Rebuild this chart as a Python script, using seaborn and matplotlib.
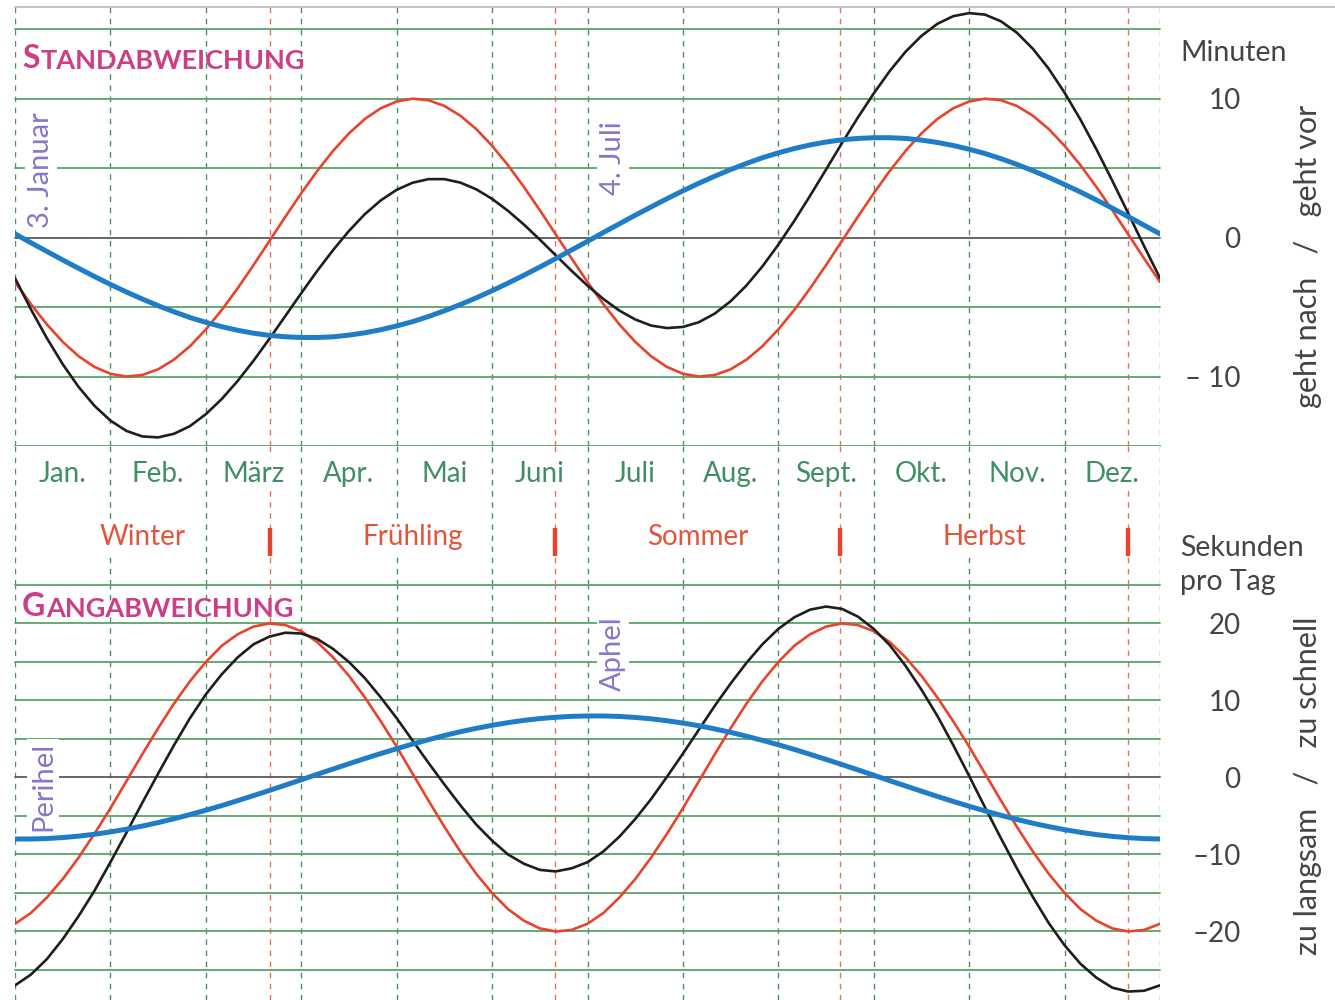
import numpy as np
import pandas as pd
import seaborn as sns
import matplotlib.pyplot as plt
from matplotlib.lines import Line2D

# Zeitachse in Monaten ab 1. Januar (Sechstelmonate)
monate_x = np.linspace(0, 12, 73)

monate = ["Jan.", "Feb.", "März", "Apr.", "Mai", "Juni",
          "Juli", "Aug.", "Sept.", "Okt.", "Nov.", "Dez."]
jahreszeiten = ["Winter", "Frühling", "Sommer", "Herbst"]
jahreszeit_beginn = [2.67, 5.66, 8.65, 11.66]   # 21.3., 21.6., 23.9., 21.12.

# Standabweichung (Minuten)
stand_blau = [0.27, -0.37, -0.99, -1.61, -2.21, -2.80, -3.37, -3.91, -4.42, -4.90, -5.34, -5.75,
              -6.10, -6.41, -6.67, -6.88, -7.04, -7.14, -7.19, -7.19, -7.14, -7.02, -6.85, -6.63,
              -6.36, -6.05, -5.68, -5.27, -4.82, -4.34, -3.82, -3.28, -2.71, -2.12, -1.51, -0.89,
              -0.27, 0.37, 0.99, 1.61, 2.21, 2.80, 3.37, 3.91, 4.42, 4.90, 5.34, 5.75,
              6.10, 6.41, 6.67, 6.88, 7.04, 7.14, 7.19, 7.19, 7.14, 7.02, 6.85, 6.63,
              6.36, 6.05, 5.68, 5.27, 4.82, 4.34, 3.82, 3.28, 2.71, 2.12, 1.51, 0.89, 0.27]
stand_rot = [-3.19, -4.79, -6.24, -7.50, -8.54, -9.31, -9.80, -10.00, -9.89, -9.48, -8.78, -7.82,
             -6.61, -5.21, -3.65, -1.98, -0.24, 1.50, 3.19, 4.79, 6.24, 7.50, 8.54, 9.31,
             9.80, 10.00, 9.89, 9.48, 8.78, 7.82, 6.61, 5.21, 3.65, 1.98, 0.24, -1.50,
             -3.19, -4.79, -6.24, -7.50, -8.54, -9.31, -9.80, -10.00, -9.89, -9.48, -8.78, -7.82,
             -6.61, -5.21, -3.65, -1.98, -0.24, 1.50, 3.19, 4.79, 6.24, 7.50, 8.54, 9.31,
             9.80, 10.00, 9.89, 9.48, 8.78, 7.82, 6.61, 5.21, 3.65, 1.98, 0.24, -1.50, -3.19]
stand_schwarz = [-2.92, -5.16, -7.23, -9.11, -10.75, -12.11, -13.17, -13.91, -14.31, -14.38, -14.12, -13.57,
                 -12.71, -11.62, -10.32, -8.86, -7.28, -5.64, -4.00, -2.40, -0.90, 0.48, 1.69, 2.68,
                 3.44, 3.95, 4.21, 4.21, 3.96, 3.48, 2.79, 1.93, 0.94, -0.14, -1.27, -2.39,
                 -3.46, -4.42, -5.25, -5.89, -6.33, -6.51, -6.43, -6.09, -5.47, -4.58, -3.44, -2.07,
                 -0.51, 1.20, 3.02, 4.90, 6.80, 8.64, 10.38, 11.98, 13.38, 14.52, 15.39, 15.94,
                 16.16, 16.05, 15.57, 14.75, 13.60, 12.16, 10.43, 8.49, 6.36, 4.10, 1.75, -0.61, -2.92]

# Gangabweichung (Sekunden pro Tag)
gang_blau = [-7.99, -7.99, -7.93, -7.80, -7.62, -7.37, -7.07, -6.72, -6.31, -5.86, -5.36, -4.82,
             -4.25, -3.65, -3.01, -2.35, -1.68, -0.99, -0.30, 0.41, 1.10, 1.78, 2.46, 3.11,
             3.74, 4.34, 4.91, 5.45, 5.94, 6.38, 6.78, 7.12, 7.42, 7.65, 7.82, 7.94,
             7.99, 7.99, 7.93, 7.80, 7.62, 7.37, 7.07, 6.72, 6.31, 5.86, 5.36, 4.82,
             4.25, 3.65, 3.01, 2.35, 1.68, 0.99, 0.30, -0.41, -1.10, -1.78, -2.46, -3.11,
             -3.74, -4.34, -4.91, -5.45, -5.94, -6.38, -6.78, -7.12, -7.42, -7.65, -7.82, -7.94, -7.99]
gang_rot = [-19.0, -17.6, -15.6, -13.2, -10.4, -7.3, -4.0, -0.5, 3.0, 6.4, 9.6, 12.5,
            15.0, 17.1, 18.6, 19.6, 20.0, 19.8, 19.0, 17.6, 15.6, 13.2, 10.4, 7.3,
            4.0, 0.5, -3.0, -6.4, -9.6, -12.5, -15.0, -17.1, -18.6, -19.6, -20.0, -19.8,
            -19.0, -17.6, -15.6, -13.2, -10.4, -7.3, -4.0, -0.5, 3.0, 6.4, 9.6, 12.5,
            15.0, 17.1, 18.6, 19.6, 20.0, 19.8, 19.0, 17.6, 15.6, 13.2, 10.4, 7.3,
            4.0, 0.5, -3.0, -6.4, -9.6, -12.5, -15.0, -17.1, -18.6, -19.6, -20.0, -19.8, -19.0]
gang_schwarz = [-27.0, -25.6, -23.6, -21.0, -18.0, -14.7, -11.0, -7.2, -3.3, 0.5, 4.2, 7.7,
                10.8, 13.4, 15.6, 17.3, 18.3, 18.8, 18.7, 18.0, 16.7, 15.0, 12.9, 10.4,
                7.7, 4.8, 1.9, -0.9, -3.6, -6.1, -8.2, -10.0, -11.2, -12.0, -12.2, -11.8,
                -11.0, -9.6, -7.7, -5.4, -2.8, 0.1, 3.1, 6.2, 9.3, 12.2, 14.9, 17.3,
                19.3, 20.8, 21.8, 22.2, 21.9, 20.9, 19.3, 17.2, 14.5, 11.4, 8.0, 4.2,
                0.2, -3.9, -7.9, -11.8, -15.5, -18.9, -21.8, -24.2, -26.0, -27.3, -27.8, -27.7, -27.0]

# Farben
GRUEN = "#58a46a"
GRAU = "#5a5a5a"
STRICH_GRUEN = "#4e8f68"
STRICH_ROT = "#e8705c"
ROT = "#e8432c"
SCHWARZ = "#1e1e1e"
BLAU = "#1f7cc6"
MAGENTA = "#cc3f86"
VIOLETT = "#8478c8"
TEXT = "#444444"

sns.set_style("white")
plt.rcParams["font.family"] = ["Lato", "DejaVu Sans"]

W, H = 1335, 1000
fig = plt.figure(figsize=(W / 100, H / 100), dpi=100)


def achse(x0, y0, x1, y1):
    return fig.add_axes([x0 / W, 1 - y1 / H, (x1 - x0) / W, (y1 - y0) / H])


ax_top = achse(15, 7, 1160, 446)
ax_mid = achse(15, 446, 1160, 585)
ax_bot = achse(15, 585, 1160, 1000)

strich = (0, (4, 4))


def raster(ax):
    ax.set_xlim(0, 12)
    for k in range(13):
        ax.axvline(k, color=STRICH_GRUEN, lw=1.0, ls=strich, zorder=1)
    for s in jahreszeit_beginn:
        ax.axvline(s, color=STRICH_ROT, lw=1.0, ls=strich, zorder=1)
    for sp in ax.spines.values():
        sp.set_visible(False)


def kurven(ax, blau, rot, schwarz):
    df = pd.DataFrame({"m": monate_x, "blau": blau, "rot": rot, "schwarz": schwarz})
    sns.lineplot(data=df, x="m", y="rot", color=ROT, lw=1.9, ax=ax, zorder=4)
    sns.lineplot(data=df, x="m", y="schwarz", color=SCHWARZ, lw=1.9, ax=ax, zorder=5)
    sns.lineplot(data=df, x="m", y="blau", color=BLAU, lw=3.6, ax=ax, zorder=6)
    ax.set_xlabel("")
    ax.set_ylabel("")
    ax.set_xticks([])


def skala(ax, werte, beschriftung):
    ax.yaxis.tick_right()
    ax.set_yticks(werte)
    ax.set_yticklabels(beschriftung)
    ax.tick_params(axis="y", length=0, pad=58, labelsize=20, labelcolor=TEXT)
    for lab in ax.get_yticklabels():
        lab.set_horizontalalignment("right")


def kapitaelchen(ax, x, y, text):
    t1 = ax.text(x, y, text[0], transform=ax.get_yaxis_transform(), fontsize=23,
                 color=MAGENTA, fontweight="bold", va="baseline", ha="left", zorder=7)
    ax.annotate(text[1:], xy=(1, 0), xycoords=t1, xytext=(1, 0), textcoords="offset points",
                fontsize=19.5, color=MAGENTA, fontweight="bold", va="bottom", ha="left", zorder=7)


def hinweis(ax, x, y, text):
    ax.text(x, y, text, rotation=90, ha="left", va="bottom", fontsize=21, color=VIOLETT,
            zorder=3, bbox=dict(facecolor="white", edgecolor="none", pad=2))


bbox_weiss = dict(facecolor="white", edgecolor="none", pad=2)

# ---------------- Standabweichung ----------------
raster(ax_top)
for v in [-15, -10, -5, 0, 5, 10, 15]:
    ax_top.axhline(v, color=GRAU if v == 0 else GRUEN, lw=1.3, zorder=2, clip_on=False)
kurven(ax_top, stand_blau, stand_rot, stand_schwarz)
ax_top.set_ylim(-15, 16.6)
skala(ax_top, [-10, 0, 10], ["– 10", "0", "10"])
kapitaelchen(ax_top, 0.006, 12.2, "STANDABWEICHUNG")
hinweis(ax_top, 0.14, 0.7, "3. Januar")
hinweis(ax_top, 6.13, 3.1, "4. Juli")

# ---------------- Monate und Jahreszeiten ----------------
raster(ax_mid)
ax_mid.set_ylim(0, 1)
ax_mid.set_xticks([])
ax_mid.set_yticks([])
for i, name in enumerate(monate):
    ax_mid.text(i + 0.5, 0.80, name, ha="center", va="center", fontsize=20,
                color="#3f8e64", zorder=3, bbox=bbox_weiss)
grenzen = [0] + jahreszeit_beginn
for i, name in enumerate(jahreszeiten):
    ax_mid.text((grenzen[i] + grenzen[i + 1]) / 2, 0.345, name, ha="center", va="center",
                fontsize=20, color="#e2553c", zorder=3, bbox=bbox_weiss)
for s in jahreszeit_beginn:
    ax_mid.plot([s, s], [0.21, 0.41], color="#e8432c", lw=3.2, solid_capstyle="butt", zorder=4)

# ---------------- Gangabweichung ----------------
raster(ax_bot)
for v in [-25, -20, -15, -10, -5, 0, 5, 10, 15, 20, 25]:
    ax_bot.axhline(v, color=GRAU if v == 0 else GRUEN, lw=1.3, zorder=2, clip_on=False)
kurven(ax_bot, gang_blau, gang_rot, gang_schwarz)
ax_bot.set_ylim(-28.9, 25)
skala(ax_bot, [-20, -10, 0, 10, 20], ["–20", "–10", "0", "10", "20"])
kapitaelchen(ax_bot, 0.006, 21.0, "GANGABWEICHUNG")
hinweis(ax_bot, 0.16, -7.0, "Perihel")
hinweis(ax_bot, 6.13, 11.2, "Aphel")

# ---------------- Beschriftung rechts ----------------
fig.text(1180 / W, 1 - 53 / H, "Minuten", fontsize=20.5, color=TEXT, va="center", ha="left")
fig.text(1180 / W, 1 - 548 / H, "Sekunden", fontsize=20.5, color=TEXT, va="center", ha="left")
fig.text(1180 / W, 1 - 582 / H, "pro Tag", fontsize=20.5, color=TEXT, va="center", ha="left")
fig.text(1308 / W, 1 - 256 / H, "geht nach   /   geht vor", rotation=90, fontsize=22,
         color=TEXT, va="center", ha="center")
fig.text(1308 / W, 1 - 786 / H, "zu langsam   /   zu schnell", rotation=90, fontsize=22,
         color=TEXT, va="center", ha="center")

fig.add_artist(Line2D([15 / W, 1335 / W], [1 - 7 / H, 1 - 7 / H], color="#b5b5b5", lw=1.2))

fig.savefig("out.png", dpi=100, facecolor="white")
